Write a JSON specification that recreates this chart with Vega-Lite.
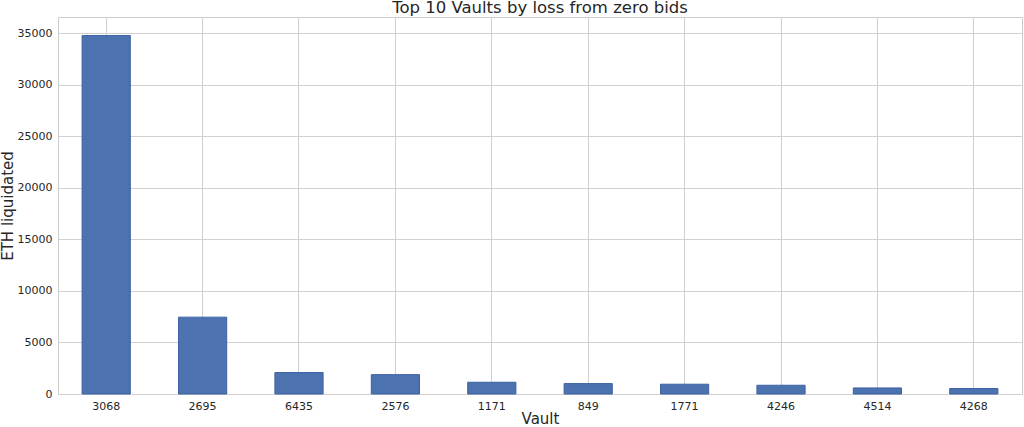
{
  "$schema": "https://vega.github.io/schema/vega-lite/v6.json",
  "width": 964,
  "height": 377,
  "autosize": "none",
  "padding": {"left": 58, "top": 17, "right": 2, "bottom": 33},
  "background": "white",
  "title": {
    "text": "Top 10 Vaults by loss from zero bids",
    "font": "DejaVu Sans",
    "fontSize": 16.5,
    "fontWeight": "normal",
    "color": "#262626",
    "baseline": "bottom",
    "offset": 0,
    "dy": 15,
    "frame": "group",
    "anchor": "middle"
  },
  "config": {
    "view": {"stroke": "#cccccc", "strokeWidth": 1},
    "font": "DejaVu Sans"
  },
  "data": {
    "values": [
      {"vault": "3068", "eth": 34800},
      {"vault": "2695", "eth": 7460},
      {"vault": "6435", "eth": 2080},
      {"vault": "2576", "eth": 1880},
      {"vault": "1171", "eth": 1140},
      {"vault": "849", "eth": 1010},
      {"vault": "1771", "eth": 950},
      {"vault": "4246", "eth": 850},
      {"vault": "4514", "eth": 590},
      {"vault": "4268", "eth": 530}
    ]
  },
  "mark": {"type": "bar", "fill": "#4c72b0", "stroke": "#3d62a3", "strokeWidth": 1},
  "encoding": {
    "x": {
      "field": "vault",
      "type": "nominal",
      "sort": null,
      "scale": {"paddingInner": 0.5, "paddingOuter": 0.25},
      "axis": {
        "title": "Vault",
        "titleFont": "DejaVu Sans",
        "titleFontSize": 15,
        "titleFontWeight": "normal",
        "titleColor": "#262626",
        "titleBaseline": "alphabetic",
        "titleY": 29,
        "labelAngle": 0,
        "labelFont": "DejaVu Sans",
        "labelFontSize": 11,
        "labelColor": "#262626",
        "labelPadding": 6,
        "ticks": false,
        "tickSize": 0,
        "domain": false,
        "grid": true,
        "gridColor": "#d0d0d0",
        "gridWidth": 1,
        "bandPosition": 0.5
      }
    },
    "y": {
      "field": "eth",
      "type": "quantitative",
      "scale": {"domain": [0, 36600], "nice": false},
      "axis": {
        "title": "ETH liquidated",
        "titleFont": "DejaVu Sans",
        "titleFontSize": 15,
        "titleFontWeight": "normal",
        "titleColor": "#262626",
        "titleBaseline": "alphabetic",
        "titleX": -46,
        "values": [0, 5000, 10000, 15000, 20000, 25000, 30000, 35000],
        "format": "d",
        "labelFont": "DejaVu Sans",
        "labelFontSize": 11,
        "labelColor": "#262626",
        "labelPadding": 6,
        "ticks": false,
        "tickSize": 0,
        "domain": false,
        "grid": true,
        "gridColor": "#d0d0d0",
        "gridWidth": 1
      }
    }
  }
}
